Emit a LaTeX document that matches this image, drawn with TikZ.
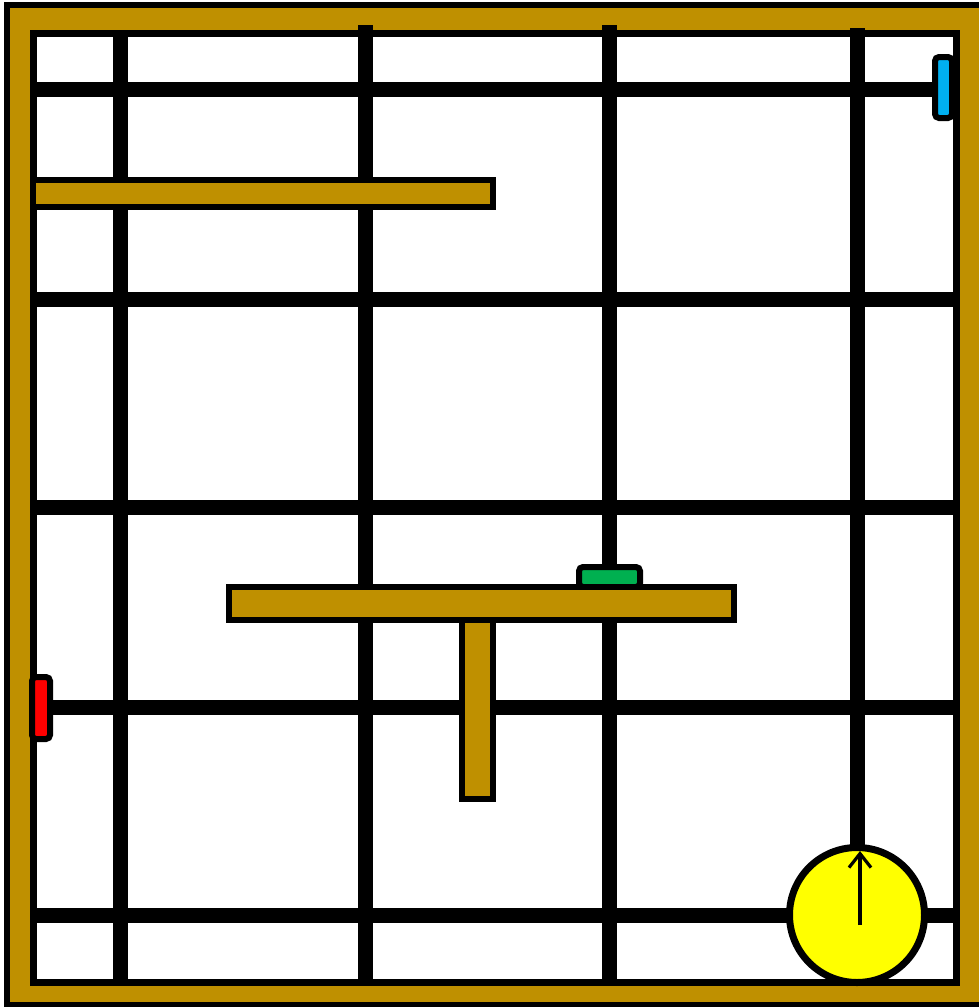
\documentclass[tikz,border=0pt]{standalone}
\usetikzlibrary{arrows.meta}
\definecolor{gold}{RGB}{191,144,0}
\definecolor{mblue}{RGB}{0,176,240}
\definecolor{mgreen}{RGB}{0,176,80}
\definecolor{mred}{RGB}{255,0,0}
\definecolor{myellow}{RGB}{255,255,0}
\tikzset{
  gridline/.style={line width=15pt, black},
  wall/.style={fill=gold, draw=black, line width=6pt},
  marker/.style={draw=black, line width=6pt, rounded corners=4pt},
}
\begin{document}
\begin{tikzpicture}[x=1pt,y=-1pt]
\useasboundingbox (0,0) rectangle (979,1007);
\clip (0,0) rectangle (979,1007);
% frame
\draw[wall] (7,4.5) rectangle (986,1005);
\draw[fill=white, draw=black, line width=7pt] (33.5,33.5) rectangle (956.5,982);
% vertical grid lines
\draw[gridline] (120,30) -- (120,982);
\draw[gridline] (365,25) -- (365,982);
\draw[gridline] (609,25) -- (609,982);
\draw[gridline] (857,28) -- (857,982);
% horizontal grid lines
\draw[gridline] (33,89) -- (935,89);
\draw[gridline] (33,299) -- (957,299);
\draw[gridline] (33,507) -- (957,507);
\draw[gridline] (50,707) -- (957,707);
\draw[gridline] (33,915) -- (953,915);
% walls
\draw[wall] (33,180) rectangle (492.5,206.5);
\draw[marker, fill=mgreen] (579,567) rectangle (640,587);
\draw[wall] (462,620) rectangle (492.5,799);
\draw[wall] (229,587) rectangle (734,620);
% markers
\draw[marker, fill=mblue] (935,57) rectangle (952,118);
\draw[marker, fill=mred] (32,677) rectangle (50,739);
% robot
\node[circle, draw=black, fill=myellow, line width=7pt, minimum size=135pt, inner sep=0pt] (robot) at (857,915) {};
\coordinate (tail) at (860,925);
\coordinate (head) at (860,851);
\draw[line width=3.2pt, -{Straight Barb[length=14pt,width=22pt]}] (tail) -- (head);
\end{tikzpicture}
\end{document}
